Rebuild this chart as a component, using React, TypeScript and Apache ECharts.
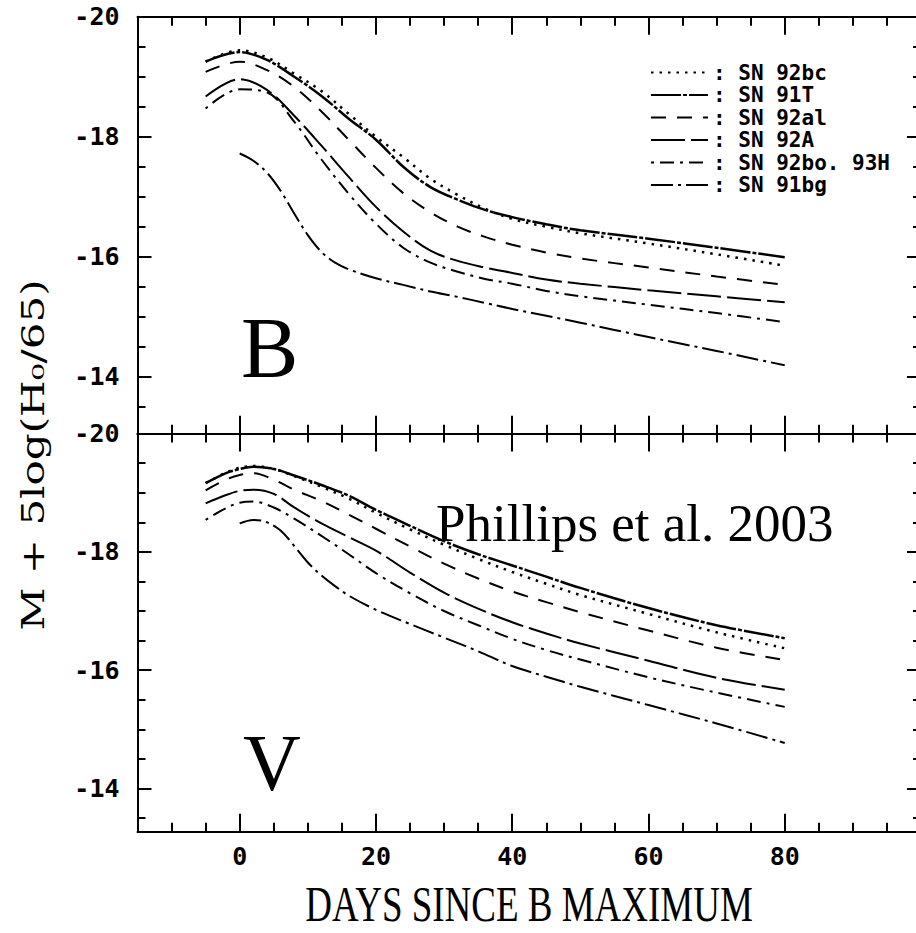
import React, { useEffect, useRef } from "react";
import * as echarts from "echarts";

// ---------- data ----------
const NAMES = ["SN 92bc", "SN 91T", "SN 92al", "SN 92A", "SN 92bo. 93H", "SN 91bg"];

const X_MIN = -15;
const X_MAX = 100;
const X_MAJOR = [0, 20, 40, 60, 80, 100];
const X_LABELS = [0, 20, 40, 60, 80];
const X_MINOR = [-15, -10, -5, 5, 10, 15, 25, 30, 35, 45, 50, 55, 65, 70, 75, 85, 90, 95];

const Y_MIN = -20;
const Y_MAX_B = -13.05;
const Y_MAX_V = -13.27;
const Y_MAJOR = [-20, -18, -16, -14];
const Y_MINOR = [-19.5, -19, -18.5, -17.5, -17, -16.5, -15.5, -15, -14.5, -13.5];

// B band
const daysB = [-5, 0, 4, 8, 12, 16, 20, 24, 28, 32, 36, 40, 45, 50, 60, 70, 80];
const b92bc = [-19.25, -19.44, -19.32, -19.05, -18.76, -18.38, -18.0, -17.66, -17.3, -17.03, -16.8, -16.63, -16.5, -16.39, -16.22, -16.04, -15.85];
const b91T = [-19.25, -19.41, -19.28, -19.0, -18.68, -18.3, -17.95, -17.5, -17.16, -16.95, -16.78, -16.66, -16.54, -16.44, -16.3, -16.15, -15.99];
const b92al = [-19.08, -19.25, -19.11, -18.83, -18.42, -17.95, -17.48, -17.06, -16.74, -16.5, -16.33, -16.2, -16.07, -15.97, -15.82, -15.67, -15.53];
const b92A = [-18.67, -18.96, -18.78, -18.35, -17.85, -17.33, -16.83, -16.42, -16.1, -15.93, -15.82, -15.73, -15.62, -15.55, -15.44, -15.34, -15.24];
const b92bo = [-18.47, -18.79, -18.74, -18.25, -17.62, -17.05, -16.55, -16.15, -15.9, -15.75, -15.63, -15.55, -15.43, -15.34, -15.2, -15.06, -14.91];
const daysBbg = [0, 2, 4, 6, 8, 10, 12, 14, 16, 20, 24, 28, 32, 36, 40, 50, 60, 70, 80];
const b91bg = [-17.72, -17.6, -17.4, -17.1, -16.72, -16.36, -16.08, -15.9, -15.79, -15.64, -15.53, -15.42, -15.33, -15.23, -15.13, -14.9, -14.66, -14.43, -14.19];

// V band
const daysV = [-5, -2, 0, 2, 5, 8, 12, 16, 20, 25, 30, 35, 40, 45, 50, 60, 70, 80];
const v92bc = [-19.16, -19.34, -19.42, -19.45, -19.4, -19.28, -19.1, -18.9, -18.66, -18.38, -18.12, -17.88, -17.66, -17.46, -17.27, -16.95, -16.64, -16.37];
const v91T = [-19.16, -19.33, -19.4, -19.44, -19.4, -19.29, -19.13, -18.95, -18.71, -18.44, -18.18, -17.96, -17.77, -17.58, -17.39, -17.05, -16.76, -16.54];
const v92al = [-19.04, -19.22, -19.3, -19.33, -19.22, -19.05, -18.86, -18.63, -18.39, -18.09, -17.8, -17.55, -17.33, -17.15, -16.98, -16.67, -16.38, -16.17];
const v92A = [-18.82, -18.96, -19.03, -19.05, -18.98, -18.75, -18.48, -18.25, -18.02, -17.65, -17.31, -17.04, -16.81, -16.62, -16.45, -16.16, -15.87, -15.67];
const v92bo = [-18.54, -18.74, -18.83, -18.85, -18.75, -18.56, -18.27, -17.96, -17.64, -17.3, -17.0, -16.76, -16.53, -16.34, -16.18, -15.88, -15.62, -15.38];
const daysVbg = [0, 2, 4, 6, 8, 10, 12, 14, 16, 20, 25, 30, 35, 40, 45, 50, 60, 70, 80];
const v91bg = [-18.48, -18.54, -18.5, -18.36, -18.1, -17.82, -17.6, -17.42, -17.26, -17.02, -16.78, -16.55, -16.32, -16.07, -15.89, -15.72, -15.41, -15.1, -14.77];

// ---------- styles ----------
const DASH: Record<string, { type: number[]; width: number }> = {
  "SN 92bc": { type: [2.5, 6], width: 2.5 },
  "SN 91T": { type: [30, 2, 4, 2], width: 2.5 },
  "SN 92al": { type: [15, 11], width: 2 },
  "SN 92A": { type: [34, 6], width: 2 },
  "SN 92bo. 93H": { type: [3, 6, 14, 6], width: 2 },
  "SN 91bg": { type: [22, 5, 3, 5], width: 2 },
};

const MONO = "'DejaVu Sans Mono', 'Liberation Mono', monospace";
const SERIF = "'Liberation Serif', 'DejaVu Serif', serif";

const GRIDS = [
  { left: 137.5, top: 16.7, width: 783.5, height: 417, outerBoundsMode: "none", containLabel: false },
  { left: 137.5, top: 433.5, width: 783.5, height: 398.2, outerBoundsMode: "none", containLabel: false },
];

function xAxes(gridIndex: number, labels: boolean) {
  const base = (position: string, values: number[], len: number, showLine: boolean, showLabel: boolean) => ({
    type: "value",
    gridIndex,
    min: X_MIN,
    max: X_MAX,
    position,
    splitLine: { show: false },
    axisLine: { show: showLine, onZero: false, lineStyle: { color: "#000", width: 2 } },
    axisTick: { show: true, inside: true, length: len, customValues: values, lineStyle: { color: "#000", width: 2 } },
    axisLabel: {
      show: showLabel,
      customValues: X_LABELS,
      margin: 12,
      color: "#000",
      fontFamily: MONO,
      fontWeight: "bold",
      fontSize: 25,
    },
  });
  return [
    base("bottom", X_MAJOR, 18, true, labels),
    base("bottom", X_MINOR, 9, false, false),
    base("top", X_MAJOR, 18, true, false),
    base("top", X_MINOR, 9, false, false),
  ];
}

function yAxes(gridIndex: number, yMax: number) {
  const base = (position: string, values: number[], len: number, showLine: boolean, showLabel: boolean) => ({
    type: "value",
    gridIndex,
    min: Y_MIN,
    max: yMax,
    inverse: true,
    position,
    splitLine: { show: false },
    axisLine: { show: showLine, onZero: false, lineStyle: { color: "#000", width: 2 } },
    axisTick: { show: true, inside: true, length: len, customValues: values, lineStyle: { color: "#000", width: 2 } },
    axisLabel: {
      show: showLabel,
      customValues: Y_MAJOR,
      margin: 18,
      color: "#000",
      fontFamily: MONO,
      fontWeight: "bold",
      fontSize: 25,
      formatter: (v: number) => String(v),
    },
  });
  return [
    base("left", Y_MAJOR, 14, true, true),
    base("left", Y_MINOR, 8, false, false),
    base("right", Y_MAJOR, 14, true, false),
    base("right", Y_MINOR, 8, false, false),
  ];
}

function mkSeries(name: string, days: number[], mags: number[], grid: number) {
  const st = DASH[name];
  return {
    name,
    type: "line",
    xAxisIndex: grid * 4,
    yAxisIndex: grid * 4,
    data: days.map((d, i) => [d, mags[i]]),
    smooth: 0.35,
    symbol: "none",
    showSymbol: false,
    clip: true,
    lineStyle: { color: "#000", width: st.width, type: st.type },
    itemStyle: { color: "#000" },
    emphasis: { disabled: true },
    z: 3,
  };
}

export default function App() {
  const ref = useRef<HTMLDivElement>(null);

  useEffect(() => {
    if (!ref.current) return;
    const chart = echarts.init(ref.current, null, { renderer: "svg" });
    const option = {
      animation: false,
      backgroundColor: "#fff",
      grid: GRIDS,
      xAxis: [...xAxes(0, false), ...xAxes(1, true)],
      yAxis: [...yAxes(0, Y_MAX_B), ...yAxes(1, Y_MAX_V)],
      legend: {
        data: NAMES,
        orient: "vertical",
        left: 650,
        top: 62,
        padding: 0,
        itemWidth: 57,
        itemHeight: 14,
        itemGap: 1.5,
        selectedMode: false,
        itemStyle: { opacity: 0, borderWidth: 0 },
        formatter: (n: string) => ": " + n,
        textStyle: { fontFamily: MONO, fontWeight: "bold", fontSize: 21, color: "#000" },
      },
      series: [
        mkSeries("SN 92bc", daysB, b92bc, 0),
        mkSeries("SN 91T", daysB, b91T, 0),
        mkSeries("SN 92al", daysB, b92al, 0),
        mkSeries("SN 92A", daysB, b92A, 0),
        mkSeries("SN 92bo. 93H", daysB, b92bo, 0),
        mkSeries("SN 91bg", daysBbg, b91bg, 0),
        mkSeries("SN 92bc", daysV, v92bc, 1),
        mkSeries("SN 91T", daysV, v91T, 1),
        mkSeries("SN 92al", daysV, v92al, 1),
        mkSeries("SN 92A", daysV, v92A, 1),
        mkSeries("SN 92bo. 93H", daysV, v92bo, 1),
        mkSeries("SN 91bg", daysVbg, v91bg, 1),
      ],
      graphic: [
        {
          type: "text",
          x: 241,
          y: 348,
          style: { text: "B", fontFamily: SERIF, fontSize: 86, fill: "#000", align: "left", verticalAlign: "middle", textAlign: "left", textVerticalAlign: "middle" },
        },
        {
          type: "text",
          x: 243,
          y: 763,
          style: { text: "V", fontFamily: SERIF, fontSize: 80, fill: "#000", align: "left", verticalAlign: "middle", textAlign: "left", textVerticalAlign: "middle" },
        },
        {
          type: "text",
          x: 436,
          y: 523,
          style: { text: "Phillips et al. 2003", fontFamily: SERIF, fontSize: 53, fill: "#000", align: "left", verticalAlign: "middle", textAlign: "left", textVerticalAlign: "middle" },
        },
        {
          type: "text",
          x: 529,
          y: 905,
          scaleY: 1.35,
          style: { text: "DAYS SINCE B MAXIMUM", fontFamily: SERIF, fontSize: 37, fill: "#000", align: "center", verticalAlign: "middle", textAlign: "center", textVerticalAlign: "middle" },
        },
        {
          type: "text",
          x: 34,
          y: 455,
          rotation: Math.PI / 2,
          scaleX: 1.355,
          style: { text: "M + 5log(H\u2080/65)", fontFamily: "'DejaVu Serif', serif", fontSize: 31, fill: "#000", align: "center", verticalAlign: "middle", textAlign: "center", textVerticalAlign: "middle" },
        },
      ],
    };
    chart.setOption(option as any);
    return () => chart.dispose();
  }, []);

  return (
    <div style={{ position: "fixed", left: 0, top: 0, width: 916, height: 933, overflow: "hidden", background: "#fff" }}>
      <div ref={ref} style={{ width: 940, height: 933 }} />
    </div>
  );
}
